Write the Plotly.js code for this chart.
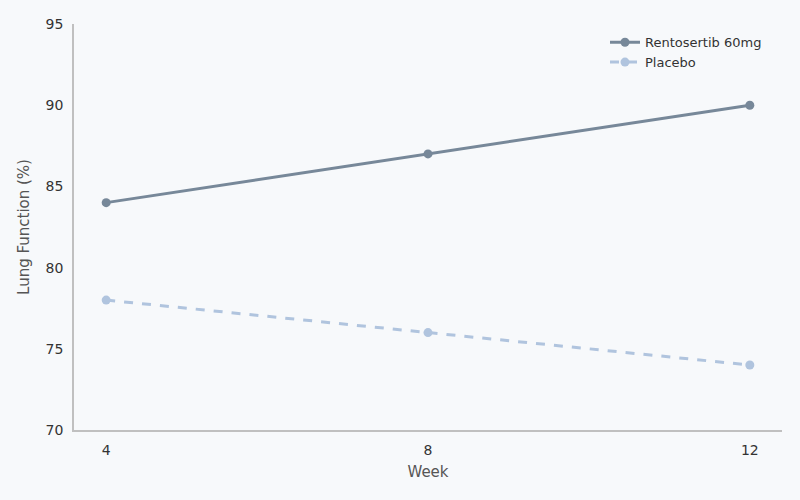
<!DOCTYPE html>
<html>
<head>
<meta charset="utf-8">
<script src="https://cdn.plot.ly/plotly-3.0.1.min.js"></script>
<style>
  html, body { margin: 0; padding: 0; background: #f7f9fb; }
  #plot { width: 800px; height: 500px; }
</style>
</head>
<body>
<div id="plot"></div>
<script>
const weeks = [4, 8, 12];
const rentosertib = [84, 87, 90];
const placebo = [78, 76, 74];
const xTicks = [4, 8, 12];
const yTicks = [70, 75, 80, 85, 90, 95];

const traces = [
  {
    x: weeks,
    y: rentosertib,
    type: "scatter",
    mode: "lines+markers",
    name: "Rentosertib 60mg",
    line: { color: "#778899", width: 3 },
    marker: { color: "#778899", size: 9 },
  },
  {
    x: weeks,
    y: placebo,
    type: "scatter",
    mode: "lines+markers",
    name: "Placebo",
    line: { color: "#b0c4de", width: 3, dash: "dash" },
    marker: { color: "#b0c4de", size: 9 },
  },
];

const layout = {
  width: 800,
  height: 500,
  paper_bgcolor: "#f7f9fb",
  plot_bgcolor: "#f7f9fb",
  font: { family: "DejaVu Sans, sans-serif", size: 14, color: "#333" },
  margin: { l: 74, r: 18, t: 24, b: 70 },
  showlegend: true,
  legend: {
    x: 0.75, y: 0.992, xanchor: "left", yanchor: "top",
    bgcolor: "rgba(0,0,0,0)",
    font: { size: 13, color: "#333" },
  },
  xaxis: {
    range: [3.6, 12.4],
    tickvals: xTicks,
    ticktext: xTicks.map(String),
    showgrid: false,
    zeroline: false,
    showline: true,
    linecolor: "#c0c0c0",
    linewidth: 1.5,
    ticks: "",
    ticklabelstandoff: 6,
    title: { text: "Week", font: { size: 15, color: "#555" }, standoff: 10 },
  },
  yaxis: {
    range: [70, 95],
    tickvals: yTicks,
    showgrid: false,
    zeroline: false,
    showline: true,
    linecolor: "#c0c0c0",
    linewidth: 1.5,
    ticks: "",
    ticklabelstandoff: 6,
    title: { text: "Lung Function (%)", font: { size: 15, color: "#555" }, standoff: 12 },
  },
};

Plotly.newPlot(document.querySelector("#plot"), traces, layout, { displayModeBar: false, responsive: false });
</script>
</body>
</html>
